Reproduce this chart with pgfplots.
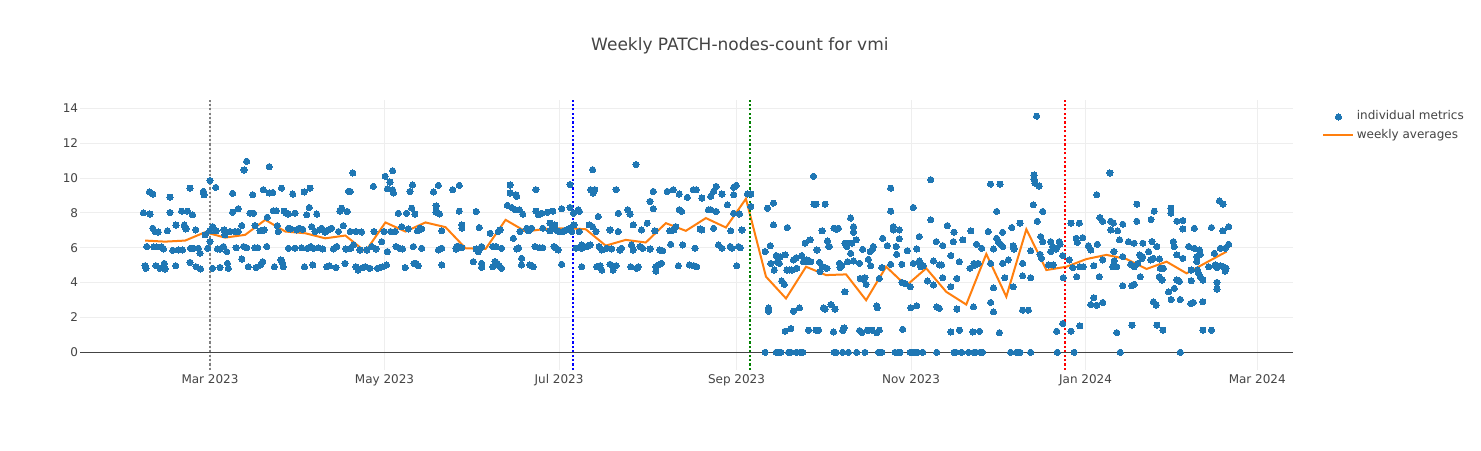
\documentclass[border=0pt]{standalone}
\usepackage{fontspec}
\setmainfont{DejaVu Sans}
\usepackage{pgfplots}
\pgfplotsset{compat=1.18}
\definecolor{pblue}{HTML}{1F77B4}
\definecolor{porange}{HTML}{FF7F0E}
\definecolor{ptext}{HTML}{444444}
\definecolor{pgrid}{HTML}{EEEEEE}
\definecolor{vgray}{HTML}{808080}
\definecolor{vblue}{HTML}{0000FF}
\definecolor{vgreen}{HTML}{008000}
\definecolor{vred}{HTML}{FF0000}
\pgfplotsset{
  dotlegend/.style={legend image code/.code={\draw[mark repeat=2,mark phase=2,##1] plot coordinates {(0pt,0pt) (7.5pt,0pt) (15pt,0pt)};}},
  linelegend/.style={legend image code/.code={\draw[##1] (0pt,0pt) -- (15pt,0pt);}},
}
\pgfplotstableread{
x y
35.7 8.0
38.0 7.93
37.8 9.2
39.0 9.08
36.3 4.97
36.6 4.82
36.9 6.07
39.0 7.12
39.8 6.93
40.9 6.9
39.4 6.05
40.4 6.05
40.1 4.97
41.5 4.82
42.1 6.05
42.7 5.93
43.0 5.1
43.3 4.78
44.1 6.97
45.0 8.9
45.0 8.02
46.0 5.85
47.0 4.97
47.1 7.3
47.9 5.87
49.1 8.1
49.4 5.87
50.0 7.3
50.6 7.08
51.1 8.1
52.0 9.42
52.0 5.16
52.2 5.97
52.9 7.89
53.2 5.97
54.0 7.02
54.1 4.91
54.9 5.97
55.5 5.68
55.7 4.78
56.7 9.23
56.9 9.04
57.3 6.74
58.2 5.97
59.0 9.85
59.0 6.35
59.0 6.97
59.9 7.21
59.9 4.82
61.0 9.46
61.1 6.97
61.6 5.93
62.5 5.93
62.5 4.87
63.7 6.07
63.9 7.02
64.2 6.74
64.8 5.78
65.1 5.1
65.4 4.82
66.0 6.93
66.9 9.12
66.9 8.04
67.7 6.93
68.1 6.0
68.9 6.93
68.9 8.24
70.1 7.27
70.1 5.35
70.7 6.07
70.9 10.46
71.8 10.96
71.8 6.0
72.4 4.91
73.0 7.98
74.2 7.98
73.9 9.04
74.7 6.0
74.7 7.27
75.1 4.86
75.7 6.0
76.5 6.97
76.7 5.01
77.4 5.2
77.6 9.33
77.9 7.02
78.8 6.07
79.0 7.75
79.7 10.65
79.7 9.14
80.9 9.17
81.1 8.12
81.5 4.91
82.1 8.12
82.5 7.27
82.9 6.93
84.0 9.42
83.8 5.3
84.4 5.1
84.6 4.91
84.9 8.1
85.6 7.98
86.4 7.93
86.4 7.12
86.4 5.97
87.2 7.08
87.9 9.08
88.7 7.98
88.7 5.97
89.3 7.02
90.2 7.12
91.0 6.0
91.4 7.06
91.9 9.2
92.0 4.91
92.8 7.89
93.0 5.97
93.7 8.31
94.0 9.42
94.2 6.07
94.5 7.21
94.9 5.01
95.1 5.97
95.7 6.93
96.3 7.93
96.9 6.0
97.2 7.02
98.0 7.12
98.4 5.93
99.2 6.9
99.8 4.91
100.4 7.02
100.7 4.97
101.5 7.12
102.1 5.93
103.0 4.86
103.3 6.07
103.9 6.93
104.4 8.1
105.0 8.27
105.6 7.27
106.2 5.1
106.5 5.93
107.0 8.08
107.4 9.23
108.0 9.23
108.0 6.93
108.2 5.97
108.9 10.29
109.1 6.16
110.0 6.93
110.0 4.91
110.8 4.72
111.4 5.87
112.0 6.9
112.4 4.86
113.2 4.91
113.8 5.87
114.7 4.82
114.9 4.82
115.5 6.07
116.1 9.52
116.3 6.93
117.0 5.93
117.5 4.82
118.4 4.86
119.0 6.35
119.4 4.91
119.8 6.93
120.2 10.1
120.7 5.01
121.0 9.38
121.0 5.78
121.9 9.77
122.1 6.93
122.8 10.42
122.8 9.33
123.1 9.14
123.7 6.93
124.0 6.07
124.8 7.98
125.2 5.97
126.0 7.21
126.3 5.93
127.2 4.86
127.7 7.98
128.3 7.08
128.9 9.23
129.5 8.27
129.8 9.6
130.1 6.07
130.3 5.1
130.6 7.93
131.0 5.1
131.8 4.97
131.5 6.97
132.4 7.12
133.0 7.08
133.0 5.97
137.1 9.2
138.0 8.4
138.0 8.04
138.8 9.58
139.2 7.93
138.8 5.87
140.0 5.97
140.0 5.01
140.0 6.97
143.8 9.33
146.1 9.58
146.1 8.1
145.2 6.07
145.0 5.93
145.8 6.07
147.0 7.31
147.0 7.12
147.0 6.0
151.0 5.2
152.0 8.08
152.0 5.93
152.8 5.78
153.1 7.16
153.4 5.97
153.9 6.07
153.9 5.1
153.9 4.87
156.9 6.83
157.8 6.07
157.8 4.91
158.6 5.2
159.0 6.07
159.4 5.1
159.8 6.93
160.1 4.97
160.4 7.02
160.9 4.82
160.9 5.97
162.9 8.43
163.9 9.6
163.9 9.14
164.4 8.31
165.6 8.18
165.9 9.04
166.2 8.95
165.0 6.54
166.2 5.93
166.8 6.0
167.3 6.93
167.1 8.18
167.9 5.39
167.9 5.01
168.3 7.93
169.7 7.12
170.3 6.97
170.8 5.01
171.4 7.12
172.0 4.91
172.6 6.07
172.9 9.33
172.9 8.1
173.8 7.89
174.3 6.0
174.9 7.98
175.3 7.12
175.3 6.0
176.9 8.04
177.8 7.41
177.8 6.97
178.8 8.1
179.0 7.12
179.2 6.07
179.5 7.31
179.9 5.97
180.4 6.97
180.7 5.87
181.1 6.93
181.9 8.24
181.9 5.05
182.5 6.93
183.6 7.02
184.8 9.62
184.8 8.31
184.8 7.12
185.4 6.93
186.0 7.98
186.2 7.31
186.9 5.97
187.7 8.18
188.1 8.08
188.1 6.93
188.9 6.16
188.9 5.97
188.9 4.91
190.6 6.07
191.5 7.31
191.8 6.16
192.0 9.33
192.7 10.48
192.9 9.14
193.5 9.33
192.7 7.21
193.9 6.93
194.1 4.91
194.7 7.79
195.0 6.07
195.3 4.97
195.9 5.87
195.9 4.72
197.6 5.97
198.8 7.02
198.8 5.05
199.4 5.93
199.9 4.72
200.9 4.97
200.9 9.33
201.7 7.98
201.7 6.93
202.3 5.87
202.8 5.97
205.0 8.18
205.8 7.93
206.0 4.91
206.3 6.16
206.9 7.31
206.9 5.87
207.9 10.77
208.1 4.82
208.7 4.91
209.3 6.07
209.8 7.02
210.2 5.97
211.8 7.41
212.8 8.66
212.8 5.93
213.9 9.23
213.9 8.24
214.5 6.97
214.8 4.91
214.8 4.66
215.7 5.01
216.2 5.87
216.8 5.1
217.2 5.82
218.8 9.23
219.7 6.97
220.0 6.2
220.9 9.33
221.1 7.02
221.8 7.21
222.7 4.97
223.0 9.08
223.0 8.18
223.8 8.08
224.2 6.16
225.8 8.89
226.5 5.01
227.9 9.33
228.1 4.97
228.9 9.33
228.5 5.97
229.1 4.91
230.3 7.08
230.9 8.85
230.9 7.02
233.2 8.18
234.0 8.18
234.0 8.95
235.0 9.23
235.0 7.12
235.9 9.52
235.9 8.08
236.7 6.16
237.9 9.08
237.9 5.97
239.8 8.46
240.8 6.07
241.0 6.97
241.4 5.97
242.0 7.98
242.0 9.04
242.0 9.46
242.9 9.58
243.1 4.97
243.7 6.07
244.0 7.93
244.3 6.0
244.9 7.02
246.8 9.08
248.0 9.08
248.0 8.37
253.0 5.78
253.0 0
253.8 8.27
254.2 2.55
254.2 2.36
254.8 6.12
255.0 5.1
255.9 8.56
255.9 7.31
256.2 4.72
256.9 5.55
256.9 0
257.3 5.2
257.7 0
258.0 5.1
258.3 5.49
258.5 0
258.8 4.09
259.7 3.9
260.0 5.59
260.0 1.21
260.6 4.72
260.8 7.16
261.2 0
261.5 4.72
262.0 1.36
262.0 0
262.3 4.72
262.9 5.3
262.9 2.36
263.9 5.43
263.9 0
264.1 4.82
265.0 2.55
265.2 0
265.8 5.55
266.2 0
266.4 5.2
267.0 6.26
267.6 5.3
268.2 1.27
268.2 5.2
268.7 6.45
269.0 5.2
269.9 10.1
270.1 8.5
270.8 8.5
270.8 1.27
271.1 5.87
271.7 1.27
272.0 5.16
272.2 4.63
272.9 6.97
273.2 4.91
273.4 2.55
274.0 8.5
274.0 2.48
274.6 4.82
274.8 6.39
275.2 6.07
275.5 6.07
276.0 2.74
276.9 1.17
277.1 0
277.1 7.12
277.4 2.48
277.8 0
278.0 7.06
278.6 7.12
279.0 5.1
279.2 4.86
279.8 4.97
280.1 0
280.1 1.25
280.6 1.4
280.9 3.47
280.9 6.26
281.5 6.07
281.8 5.2
282.1 0
282.1 6.26
282.9 7.7
282.9 5.68
283.3 6.26
283.9 7.21
283.9 6.89
283.9 5.24
284.8 6.45
285.0 0
286.0 5.1
286.0 1.25
286.2 4.24
286.8 1.13
287.1 5.91
287.3 4.2
287.9 0
287.9 4.28
288.3 3.9
288.7 1.27
289.1 5.33
289.4 1.27
289.7 5.78
289.9 4.97
290.3 1.27
290.6 5.93
290.8 6.07
292.0 1.13
292.0 2.67
292.2 2.55
292.6 0
292.9 1.27
292.9 4.24
293.2 0
293.8 0
293.8 4.86
294.1 6.54
295.7 6.12
296.9 9.42
296.9 8.1
296.9 5.05
297.8 7.21
297.8 7.02
298.4 0
298.8 6.07
299.0 5.62
299.6 0
299.9 7.02
299.9 6.51
300.2 0
300.8 4.01
300.8 5.05
301.1 1.32
301.9 3.95
302.7 5.83
303.7 3.76
303.7 0
303.9 2.55
304.6 0
304.8 8.31
304.8 5.1
305.4 0
306.0 5.93
306.0 2.67
306.2 0
306.9 6.64
306.9 5.24
307.2 5.01
307.4 4.91
308.1 0
308.3 4.97
309.7 4.09
310.9 9.9
310.9 7.6
311.8 5.24
311.8 3.86
312.8 6.35
313.0 0
313.0 2.61
313.9 2.52
313.9 5.01
314.7 5.01
315.1 6.12
315.1 4.28
316.7 7.27
317.9 5.55
317.9 3.76
317.9 1.17
318.8 6.35
319.0 6.89
319.0 0
319.7 0
320.0 4.24
320.0 2.48
320.9 5.2
320.9 1.27
321.7 0
322.1 6.45
324.1 0
324.6 4.82
324.9 6.97
325.6 1.17
325.8 2.61
326.0 0
326.0 5.1
326.3 5.01
326.7 0
326.9 6.2
327.5 5.1
327.9 1.21
328.1 0
328.7 5.97
329.0 0
331.0 6.93
331.8 5.1
331.8 9.65
331.8 2.86
332.8 3.7
332.8 2.32
332.8 5.93
333.9 8.08
333.9 6.54
334.5 6.35
335.1 9.65
334.9 1.13
335.3 6.2
336.0 6.89
336.0 6.07
336.0 5.1
336.8 4.28
338.0 5.3
338.8 0
339.2 7.16
339.7 6.12
339.7 3.76
340.0 5.93
340.9 0
341.5 0
342.1 7.41
342.1 0
343.0 5.1
343.0 4.39
343.0 2.42
345.0 2.42
345.8 4.28
345.8 5.82
345.8 0
346.7 8.46
347.0 10.17
347.0 9.92
347.3 9.71
347.9 13.55
348.1 7.52
348.8 9.54
349.1 5.62
349.3 6.64
349.6 5.39
350.0 6.35
350.0 8.08
352.0 5.01
352.8 6.35
352.8 5.78
353.5 6.07
353.7 5.01
354.7 5.93
354.9 1.21
355.1 0
355.8 6.35
356.1 6.2
357.0 5.55
357.0 1.65
357.2 4.28
359.3 5.3
359.9 7.41
359.9 1.21
360.5 4.86
361.0 0
361.7 6.54
361.9 4.34
362.1 6.31
362.8 7.41
363.0 1.52
363.0 4.91
364.0 6.58
364.2 4.91
366.0 6.12
366.8 5.87
366.8 2.74
367.9 3.13
367.9 4.97
368.9 2.7
368.9 9.04
369.1 6.2
369.8 4.34
370.0 7.73
371.0 2.86
371.0 7.52
371.0 5.3
373.5 10.29
373.8 7.52
373.8 7.02
374.5 4.91
374.7 7.41
374.9 5.78
375.0 5.24
375.3 4.91
375.9 4.91
375.9 1.13
376.2 6.97
376.9 6.45
377.1 0
378.0 7.35
378.0 5.49
378.0 3.82
380.0 6.35
380.8 5.05
381.2 3.82
381.2 1.56
382.0 6.26
382.0 4.91
382.0 3.9
382.9 8.5
382.9 7.52
383.2 5.1
383.9 5.59
384.1 4.34
384.7 5.39
384.9 5.49
385.0 6.26
387.0 5.78
387.8 5.3
387.9 7.62
388.2 6.35
388.7 5.39
389.0 8.1
388.7 2.9
389.7 2.71
389.9 6.07
389.9 1.56
390.8 5.35
390.8 4.34
391.1 4.82
391.7 4.15
392.0 1.27
392.2 4.82
394.0 3.47
394.8 8.27
394.8 7.98
394.9 3.03
395.7 6.35
396.0 6.07
396.0 3.67
396.9 7.52
396.9 5.59
396.9 4.15
397.8 4.07
398.1 0
398.1 3.03
399.0 7.56
399.0 7.08
399.0 5.39
401.0 6.07
401.8 2.8
401.9 4.11
401.9 4.72
402.7 2.86
403.0 7.12
403.0 5.97
403.9 5.49
403.9 5.2
404.1 4.72
404.5 4.53
404.8 5.87
405.1 5.62
405.1 4.34
406.0 4.15
406.0 2.9
406.0 1.27
408.0 4.91
409.0 7.16
409.0 1.27
410.0 5.68
410.3 5.01
410.9 4.86
410.9 4.01
410.9 3.63
411.8 8.69
412.1 5.97
412.1 4.97
413.0 8.5
413.0 6.97
413.2 4.91
413.8 5.97
413.8 4.66
414.1 4.82
415.0 7.21
415.0 6.2
}\points
\pgfplotstableread{
x y
36.3 6.41
43.3 6.35
50.3 6.41
57.3 6.89
64.3 6.58
71.3 6.74
78.3 7.6
85.3 6.93
92.3 6.83
99.3 6.54
106.3 6.7
113.3 5.78
120.3 7.45
127.3 6.93
134.3 7.45
141.3 7.18
148.3 5.97
155.3 5.93
162.3 7.6
169.3 6.93
176.3 7.08
183.3 7.12
190.3 7.06
197.3 6.12
204.3 6.45
211.3 6.3
218.3 7.41
225.3 6.97
232.3 7.7
239.3 7.16
246.3 8.81
253.3 4.34
260.3 3.09
267.3 4.91
274.3 4.43
281.3 4.47
288.3 2.99
295.3 4.91
302.3 3.82
309.3 4.82
316.3 3.47
323.3 2.74
330.3 5.64
337.3 3.19
344.3 7.06
351.3 4.72
358.3 4.91
365.3 5.35
372.3 5.59
379.3 5.35
386.3 4.78
393.3 5.2
400.3 4.53
407.3 5.16
414.3 5.78
}\weekly
\begin{document}
\begin{tikzpicture}[x=1pt,y=1pt]
\path[use as bounding box, fill=white] (0,0) rectangle (740.5,225);
\begin{axis}[
  at={(40pt,40pt)}, anchor=south west,
  scale only axis, width=606.5pt, height=135pt,
  xmin=13.56, xmax=437.5, ymin=-1.015, ymax=14.475,
  axis line style={draw=none},
  tick style={draw=none},
  xtick={59,120,181,243,304,365,425},
  xticklabels={Mar 2023,May 2023,Jul 2023,Sep 2023,Nov 2023,Jan 2024,Mar 2024},
  ytick={0,2,4,6,8,10,12,14},
  grid=major, major grid style={pgrid, line width=0.5pt},
  ticklabel style={font=\fontsize{6}{7}\selectfont, text=ptext},
  xticklabel style={yshift=1.3pt, text height=4.6pt, text depth=1.2pt},
  yticklabel style={xshift=2.6pt},
  /pgf/number format/assume math mode=true,
  title={Weekly PATCH-nodes-count for vmi},
  title style={at={(0.544,1.155)}, anchor=center, font=\fontsize{8.5}{10}\selectfont, text=ptext},
  legend style={draw=none, fill=none, at={(1.019,0.985)}, anchor=north west,
    font=\fontsize{6}{7}\selectfont, text=ptext, row sep=0.6pt,
    nodes={inner sep=1.2pt}},
  legend cell align=left,
]
\addplot[ptext, line width=0.6pt, forget plot] coordinates {(13.56,0) (437.5,0)};
\addplot[only marks, mark=*, mark size=1.55pt, mark options={fill=pblue, draw=pblue, line width=0pt}, dotlegend]
  table[x=x,y=y] {\points};
\addlegendentry{individual metrics}
\addplot[porange, line width=1pt, mark=none, linelegend]
  table[x=x,y=y] {\weekly};
\addlegendentry{weekly averages}
\addplot[vgray, line width=1.1pt, dash pattern=on 1.1pt off 1.1pt, forget plot] coordinates {(59,-1.015) (59,14.475)};
\addplot[vblue, line width=1.1pt, dash pattern=on 1.1pt off 1.1pt, forget plot] coordinates {(185.8,-1.015) (185.8,14.475)};
\addplot[vgreen, line width=1.1pt, dash pattern=on 1.1pt off 1.1pt, forget plot] coordinates {(247.6,-1.015) (247.6,14.475)};
\addplot[vred, line width=1.1pt, dash pattern=on 1.1pt off 1.1pt, forget plot] coordinates {(357.8,-1.015) (357.8,14.475)};
\end{axis}
\end{tikzpicture}
\end{document}
